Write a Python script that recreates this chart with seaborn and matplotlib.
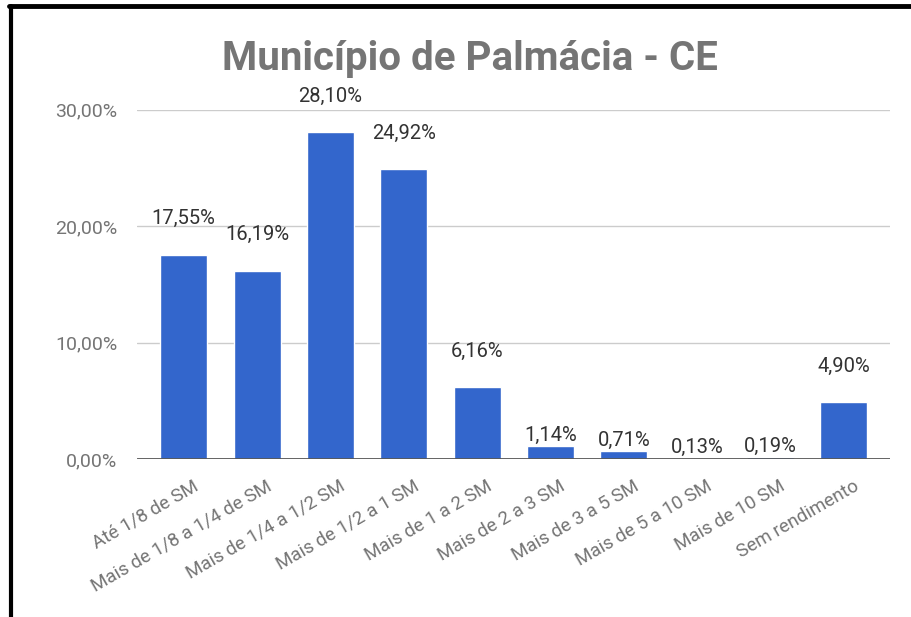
import matplotlib
matplotlib.use("Agg")
import matplotlib.pyplot as plt
import matplotlib.transforms as mtransforms
import seaborn as sns
import pandas as pd
from matplotlib.lines import Line2D

categories = [
    "Até 1/8 de SM", "Mais de 1/8 a 1/4 de SM", "Mais de 1/4 a 1/2 SM",
    "Mais de 1/2 a 1 SM", "Mais de 1 a 2 SM", "Mais de 2 a 3 SM",
    "Mais de 3 a 5 SM", "Mais de 5 a 10 SM", "Mais de 10 SM", "Sem rendimento",
]
values = [17.55, 16.19, 28.10, 24.92, 6.16, 1.14, 0.71, 0.13, 0.19, 4.90]
y_ticks = [0, 10, 20, 30]
title = "Município de Palmácia - CE"


def pct(v):
    return f"{v:.2f}".replace(".", ",") + "%"


df = pd.DataFrame({"cat": categories, "val": values})

sns.set_style("white")
plt.rcParams["font.family"] = ["Roboto", "DejaVu Sans"]

fig = plt.figure(figsize=(9.12, 6.17), dpi=100)
ax = fig.add_axes([0.150, 0.256, 0.826, 0.566])

sns.barplot(data=df, x="cat", y="val", color="#3366CC", saturation=1,
            width=0.64, ax=ax, zorder=3)

ax.set_xlim(-0.64, 9.63)
ax.set_ylim(0, 30)
ax.set_yticks(y_ticks)
ax.set_yticklabels([pct(t) for t in y_ticks], color="#757575", fontsize=14)
ax.tick_params(axis="y", length=0, pad=14)
ax.tick_params(axis="x", length=0, pad=13)
ax.set_xticks(range(len(categories)))
ax.set_xticklabels(categories, rotation=30, ha="right", rotation_mode="anchor",
                   color="#747474", fontsize=13.5)
# nudge the rotated labels a bit to the right, like the original
shift = mtransforms.ScaledTranslation(9 / 100, 0, fig.dpi_scale_trans)
for lab in ax.get_xticklabels():
    lab.set_transform(lab.get_transform() + shift)
ax.set_xlabel("")
ax.set_ylabel("")

for t in y_ticks[1:]:
    ax.axhline(t, color="#cccccc", lw=1, zorder=1)
ax.axhline(0, color="#555555", lw=2, zorder=4)
for s in ax.spines.values():
    s.set_visible(False)

for i, v in enumerate(values):
    off = 10 if v < 2 else 36
    ax.annotate(pct(v), (i, v), xytext=(0, off * 0.72), textcoords="offset points",
                ha="center", va="center", fontsize=14.5, color="#333333", zorder=5)

fig.text(0.515, 0.8865, title, ha="center", va="baseline", fontsize=29,
         fontweight="bold", color="#757575")

fig.add_artist(Line2D([0.012, 0.012], [0, 0.99], transform=fig.transFigure,
                      color="black", lw=3))
fig.add_artist(Line2D([0.010, 1.0], [0.99, 0.99], transform=fig.transFigure,
                      color="black", lw=3.5))

fig.savefig("out.png", dpi=100)
